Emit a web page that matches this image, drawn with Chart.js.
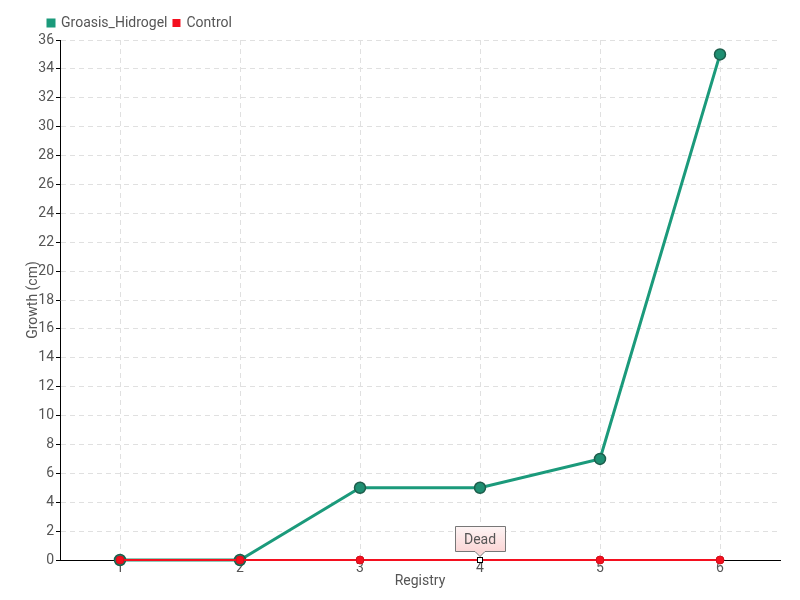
<!DOCTYPE html>
<html>
<head>
<meta charset="utf-8">
<script src="https://cdn.jsdelivr.net/npm/chart.js@4/dist/chart.umd.min.js"></script>
<style>
  html, body { margin: 0; padding: 0; background: #fff; }
  #wrap { width: 800px; height: 600px; }
</style>
</head>
<body>
<div id="wrap"><canvas id="c" width="800" height="600"></canvas></div>
<script>
// Registry visits and measured growth (cm)
const registry = ['1', '2', '3', '4', '5', '6'];
const groasisHidrogel = [0, 0, 5, 5, 7, 35];
const control = [0, 0, 0, 0, 0, 0];
// Index of the registry where the control plant was found dead
const deadIndex = 3;
const deadLabel = 'Dead';

const FONT = 'Roboto, "DejaVu Sans", sans-serif';
const TEAL = '#1b9a7b';
const RED = '#f4101f';

// Callout box drawn above the "dead" control point
const deadCallout = {
  id: 'deadCallout',
  afterDatasetsDraw(chart) {
    const meta = chart.getDatasetMeta(1);
    const pt = meta.data[deadIndex];
    if (!pt) return;
    const ctx = chart.ctx;
    const x = pt.x, y = pt.y;
    const w = 50, h = 25;
    const bx = Math.round(x - w / 2) + 0.5;
    const by = Math.round(y - 9 - h) + 0.5;
    ctx.save();
    const g = ctx.createLinearGradient(0, by, 0, by + h);
    g.addColorStop(0, '#fdf4f4');
    g.addColorStop(1, '#fbd6d6');
    ctx.beginPath();
    ctx.moveTo(bx, by);
    ctx.lineTo(bx + w, by);
    ctx.lineTo(bx + w, by + h);
    ctx.lineTo(x + 5, by + h);
    ctx.lineTo(x, by + h + 5);
    ctx.lineTo(x - 5, by + h);
    ctx.lineTo(bx, by + h);
    ctx.closePath();
    ctx.fillStyle = g;
    ctx.fill();
    ctx.strokeStyle = '#777';
    ctx.lineWidth = 1;
    ctx.stroke();
    ctx.fillStyle = '#555';
    ctx.font = '14px ' + FONT;
    ctx.textAlign = 'center';
    ctx.textBaseline = 'middle';
    ctx.fillText(deadLabel, x, by + h / 2 + 1);
    // white square marker on the dead point
    ctx.fillStyle = '#fff';
    ctx.strokeStyle = '#000';
    ctx.fillRect(Math.round(x) - 3, Math.round(y) - 3, 6, 6);
    ctx.strokeRect(Math.round(x) - 2.5, Math.round(y) - 2.5, 5, 5);
    ctx.restore();
  }
};

// Shift the legend to the right of the axis title
const legendShift = {
  id: 'legendShift',
  afterLayout(chart) {
    const lg = chart.legend;
    if (!lg) return;
    lg.left += 17;
    lg.right += 17;
    if (lg.legendHitBoxes) lg.legendHitBoxes.forEach(b => { b.left += 17; });
  }
};

const ctrlPointRadius = control.map((v, i) => i === deadIndex ? 0 : 4);

new Chart(document.getElementById('c'), {
  type: 'line',
  data: {
    labels: registry,
    datasets: [
      {
        label: 'Groasis_Hidrogel',
        data: groasisHidrogel,
        borderColor: TEAL,
        backgroundColor: TEAL,
        borderWidth: 3,
        pointRadius: 5.5,
        pointBackgroundColor: '#1f8f72',
        pointBorderColor: '#1d5e4c',
        pointBorderWidth: 1.5,
        tension: 0,
        clip: false,
        order: 1
      },
      {
        label: 'Control',
        data: control,
        borderColor: RED,
        backgroundColor: RED,
        borderWidth: 2,
        pointRadius: ctrlPointRadius,
        pointBackgroundColor: RED,
        pointBorderColor: '#d0101c',
        pointBorderWidth: 1,
        tension: 0,
        clip: false,
        order: 0
      }
    ]
  },
  options: {
    responsive: false,
    animation: false,
    layout: { padding: { left: 25, right: 20, top: 10, bottom: 10 } },
    plugins: {
      legend: {
        position: 'top',
        align: 'start',
        labels: {
          boxWidth: 6,
          boxHeight: 6,
          padding: 6,
          color: '#555',
          font: { family: FONT, size: 14 },
          sort: (a, b) => a.datasetIndex - b.datasetIndex
        }
      },
      tooltip: { enabled: false }
    },
    scales: {
      x: {
        offset: true,
        grid: {
          offset: false,
          color: '#e0e0e0',
          drawTicks: false,
          tickLength: 0
        },
        border: { display: true, color: '#000', width: 1, dash: [5, 4] },
        ticks: { color: '#555', font: { family: FONT, size: 14 }, padding: 0 },
        title: {
          display: true,
          text: 'Registry',
          color: '#555',
          font: { family: FONT, size: 14 },
          padding: { top: 0, bottom: 0 }
        },
        afterFit(scale) { scale.height = 30; }
      },
      y: {
        min: 0,
        max: 36,
        grid: {
          color: '#e0e0e0',
          drawTicks: true,
          tickLength: 4,
          tickColor: '#000',
          tickWidth: 1,
          tickBorderDash: []
        },
        border: { display: true, color: '#000', width: 1, dash: [5, 4] },
        ticks: {
          stepSize: 2,
          color: '#555',
          padding: 2,
          font: { family: FONT, size: 14 }
        },
        title: {
          display: true,
          text: 'Growth (cm)',
          color: '#555',
          font: { family: FONT, size: 14 },
          padding: { top: 0, bottom: 0 }
        },
        afterFit(scale) { scale.width = 35; }
      }
    }
  },
  plugins: [deadCallout, legendShift]
});
</script>
</body>
</html>
